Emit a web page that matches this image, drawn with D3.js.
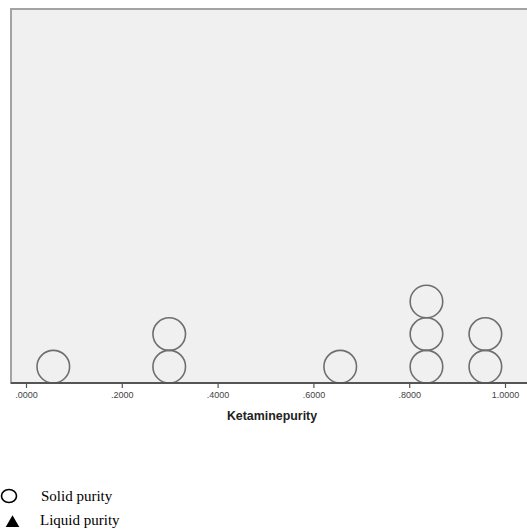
<!DOCTYPE html>
<html><head><meta charset="utf-8">
<script src="https://cdn.jsdelivr.net/npm/d3@7"></script>
<style>body{margin:0;background:#fff}svg{display:block}</style>
</head><body>
<script>
// Data
const solidPurity = [0.057, 0.299, 0.299, 0.656, 0.836, 0.836, 0.836, 0.959, 0.959];
const tickValues = [0, 0.2, 0.4, 0.6, 0.8, 1.0];
const tickLabels = [".0000", ".2000", ".4000", ".6000", ".8000", "1.0000"];
const legendLabels = ["Solid purity", "Liquid purity"];
const axisTitle = "Ketaminepurity";

const W = 527, H = 529;
const svg = d3.select("body").append("svg").attr("width", W).attr("height", H);

const plot = {left: 11, top: 9, right: 532, bottom: 383};
const x = d3.scaleLinear().domain([0, 1]).range([26, 505]);
const r = 16.3;
const y = d3.scaleLinear().domain([0, 1]).range([plot.bottom - r, plot.bottom - r - 2 * r]);

// background
svg.append("rect").attr("x", plot.left).attr("y", plot.top)
  .attr("width", plot.right - plot.left).attr("height", plot.bottom - plot.top)
  .attr("fill", "#f0f0f0").attr("stroke", "#a3a3a3").attr("stroke-width", 2);

// stacking
const counts = new Map();
const pts = solidPurity.map(v => {
  const k = v.toFixed(3);
  const c = counts.get(k) || 0;
  counts.set(k, c + 1);
  return {v, level: c};
});

svg.append("g").selectAll("circle").data(pts).join("circle")
  .attr("cx", d => x(d.v)).attr("cy", d => y(d.level)).attr("r", r)
  .attr("fill", "none").attr("stroke", "#6e6e6e").attr("stroke-width", 1.6);

// axis
const axis = d3.axisBottom(x).tickValues(tickValues)
  .tickFormat((d, i) => tickLabels[i]).tickSize(5).tickPadding(4).tickSizeOuter(0);
const gx = svg.append("g").attr("transform", `translate(0,${plot.bottom})`).call(axis);
gx.select(".domain").remove();
gx.selectAll(".tick line").attr("stroke", "#555").attr("stroke-width", 1.2);
gx.selectAll(".tick text").attr("font-family", "Arial, 'Liberation Sans', sans-serif")
  .attr("font-size", 9).attr("fill", "#444");
svg.append("line").attr("x1", plot.left).attr("x2", plot.right)
  .attr("y1", plot.bottom).attr("y2", plot.bottom).attr("stroke", "#555").attr("stroke-width", 2);

svg.append("text").attr("x", 272).attr("y", 420).attr("text-anchor", "middle")
  .attr("font-family", "Arial, 'Liberation Sans', sans-serif").attr("font-weight", "bold")
  .attr("font-size", 12.4).attr("fill", "#222").text(axisTitle);

// legend
const lg = svg.append("g").attr("font-family", "'Liberation Serif', 'Times New Roman', serif")
  .attr("font-size", 15).attr("fill", "#000");
lg.append("ellipse").attr("cx", 9).attr("cy", 496).attr("rx", 7.5).attr("ry", 6.5)
  .attr("fill", "none").attr("stroke", "#000").attr("stroke-width", 1.6);
lg.append("text").attr("x", 41).attr("y", 501).text(legendLabels[0]);
lg.append("path").attr("d", d3.symbol(d3.symbolTriangle, 80)()).attr("transform", "translate(12.5,523)")
  .attr("fill", "#000");
lg.append("text").attr("x", 40).attr("y", 525).text(legendLabels[1]);
</script>
</body></html>
